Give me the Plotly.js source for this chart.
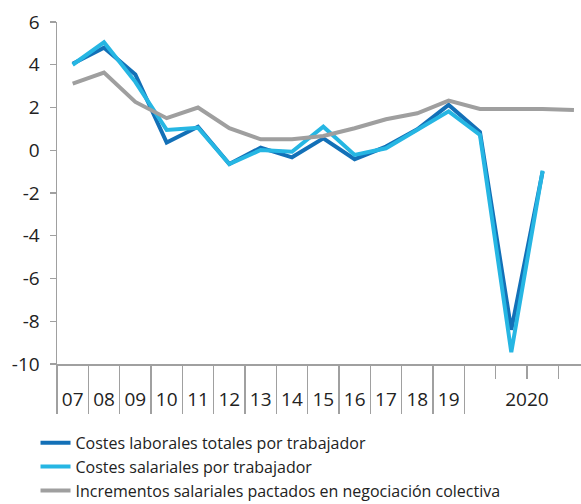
<!DOCTYPE html>
<html>
<head>
<meta charset="utf-8">
<script src="https://cdn.plot.ly/plotly-3.0.1.min.js"></script>
<style>
html,body{margin:0;padding:0;background:#fff;overflow:hidden;}
#chart{width:581px;height:504px;}
</style>
</head>
<body>
<div id="chart"></div>
<script>
// Periods: annual 2007-2019, then quarters of 2020
var yearLabels = ['07','08','09','10','11','12','13','14','15','16','17','18','19'];
var quarterLabels = ['2020 T1','2020 T2','2020 T3','2020 T4'];
var groupLabel2020 = '2020';

var costesLaborales = [4.05, 4.8, 3.55, 0.36, 1.1, -0.64, 0.12, -0.33, 0.56, -0.42, 0.17, 0.98, 2.12, 0.85, -8.4, -1.0, null];
var costesSalariales = [4.0, 5.05, 3.2, 0.95, 1.05, -0.65, 0.01, -0.07, 1.1, -0.22, 0.09, 0.95, 1.82, 0.72, -9.45, -0.95, null];
var incrementosPactados = [3.12, 3.63, 2.26, 1.5, 2.0, 1.03, 0.51, 0.51, 0.67, 1.03, 1.45, 1.73, 2.32, 1.93, 1.93, 1.93, 1.88];

var seriesNames = ['Costes laborales totales por trabajador','Costes salariales por trabajador','Incrementos salariales pactados en negociación colectiva'];
var yTicks = [-10,-8,-6,-4,-2,0,2,4,6];
var yTickText = ['-10','-8','-6','-4','-2','0','2','4','6'];

var periods = yearLabels.concat(quarterLabels);
var xs = periods.map(function(p,i){return i+0.5;});
var nY = yearLabels.length, nQ = quarterLabels.length;
var xRange = [0, 16.725];

var yearBounds = []; for (var i=0;i<=nY;i++) yearBounds.push(i);
var quarterBounds = []; for (var q=1;q<nQ;q++) quarterBounds.push(nY+q);
var labelPos = yearLabels.map(function(l,i){return i+0.5;}).concat([nY+nQ/2]);
var labelText = yearLabels.concat([groupLabel2020]);

var fontFam = '"Open Sans", "DejaVu Sans", sans-serif';
var axisCol = '#a0a0a0';

function mk(y, name, color){
  return {x: xs, y: y, name: name, type:'scatter', mode:'lines',
    line:{color:color, width:4, shape:'linear'}, hoverinfo:'skip'};
}
function dummy(ax){
  return {x:[xRange[0]], y:[null], xaxis:ax, yaxis:'y', type:'scatter', mode:'lines',
    showlegend:false, hoverinfo:'skip'};
}
var traces = [
  dummy('x2'), dummy('x3'),
  mk(costesLaborales, seriesNames[0], '#1370b7'),
  mk(costesSalariales, seriesNames[1], '#26b6e3'),
  mk(incrementosPactados, seriesNames[2], '#9f9f9f')
];

var layout = {
  width:581, height:504,
  margin:{l:57, r:0, t:22, b:140, pad:0},
  paper_bgcolor:'#fff', plot_bgcolor:'#fff',
  font:{family:fontFam, color:'#222', size:18},
  showlegend:true,
  legend:{x:-0.041, xanchor:'left', yref:'container', y:0.155, yanchor:'top', orientation:'v',
    font:{family:fontFam, size:16, color:'#222'}, itemwidth:30, tracegroupgap:0,
    bgcolor:'rgba(0,0,0,0)'},
  xaxis:{range:xRange, tickmode:'array', tickvals:yearBounds, ticks:'outside', ticklen:48,
    tickcolor:axisCol, tickwidth:1.3, showticklabels:false, showline:true, linecolor:axisCol,
    linewidth:1.5, showgrid:false, zeroline:false, fixedrange:true},
  xaxis2:{overlaying:'x', anchor:'y', side:'bottom', range:xRange, tickmode:'array', tickvals:quarterBounds,
    ticks:'outside', ticklen:14, tickcolor:axisCol, tickwidth:1.3, showticklabels:false,
    showline:false, showgrid:false, zeroline:false},
  xaxis3:{overlaying:'x', anchor:'y', side:'bottom', range:xRange, tickmode:'array', tickvals:labelPos,
    ticktext:labelText, ticks:'outside', ticklen:18, tickcolor:'rgba(0,0,0,0)',
    tickfont:{family:fontFam, size:19, color:'#222'}, showline:false, showgrid:false, zeroline:false},
  yaxis:{range:[-10,6], tickmode:'array', tickvals:yTicks, ticktext:yTickText, ticks:'outside', ticklen:6,
    tickcolor:axisCol, tickwidth:1.3, showline:true, linecolor:axisCol, linewidth:1.5,
    showgrid:false, zeroline:false, tickfont:{family:fontFam, size:19, color:'#222'},
    ticklabelstandoff:6}
};
Plotly.newPlot('chart', traces, layout, {displayModeBar:false, staticPlot:true});
</script>
</body>
</html>
